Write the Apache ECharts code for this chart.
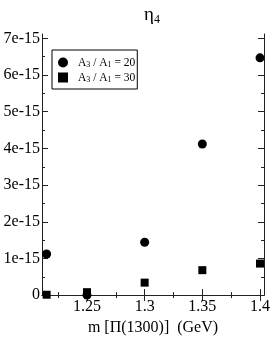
<!DOCTYPE html>
<html><head><meta charset="utf-8">
<script src="https://cdn.jsdelivr.net/npm/echarts@6/dist/echarts.min.js"></script>
<style>html,body{margin:0;padding:0;background:#fff}#c{width:273px;height:341px}</style>
</head><body><div id="c"></div>
<script>
const xValues = [1.215, 1.25, 1.3, 1.35, 1.4];
const ratio20 = [1.12e-15, 0.0, 1.44e-15, 4.12e-15, 6.47e-15];
const ratio30 = [0.01e-15, 0.08e-15, 0.34e-15, 0.68e-15, 0.86e-15];
const xMajor = [1.25, 1.3, 1.35, 1.4];
const xMinor = [1.225, 1.275, 1.325, 1.375];
const yMajor = [0, 1e-15, 2e-15, 3e-15, 4e-15, 5e-15, 6e-15, 7e-15];
const yMinor = [0.5e-15, 1.5e-15, 2.5e-15, 3.5e-15, 4.5e-15, 5.5e-15, 6.5e-15];
const xMin = 1.211, xMax = 1.4035, yMin = 0, yMax = 7.12e-15;
const FONT = 'Liberation Serif';
const AX = '#222';

function xAx(pos, vals, len, labels, line) {
  return {
    type: 'value', position: pos, min: xMin, max: xMax, splitLine: {show: false},
    axisLine: {show: line, lineStyle: {color: AX, width: 1}},
    axisTick: {show: true, inside: true, length: len, customValues: vals, lineStyle: {color: AX}},
    axisLabel: labels ? {show: true, customValues: vals, fontFamily: FONT, fontSize: 16, color: '#000', margin: 4,
      formatter: v => String(+v.toFixed(2))} : {show: false}
  };
}
function yAx(pos, vals, len, labels, line) {
  return {
    type: 'value', position: pos, min: yMin, max: yMax, splitLine: {show: false},
    axisLine: {show: line, lineStyle: {color: AX, width: 1}},
    axisTick: {show: true, inside: true, length: len, customValues: vals, lineStyle: {color: AX}},
    axisLabel: labels ? {show: true, customValues: vals, fontFamily: FONT, fontSize: 16, color: '#000', margin: 2,
      formatter: v => { const k = Math.round(v / 1e-15); return k === 0 ? '0' : k + 'e-15'; }} : {show: false}
  };
}

const xAxes = [xAx('bottom', xMajor, 6, true, true), xAx('bottom', xMinor, 3, false, false),
  xAx('top', xMajor, 6, false, true), xAx('top', xMinor, 3, false, false)];
xAxes[0].name = 'm [Π(1300)]  (GeV)';
xAxes[0].nameLocation = 'middle';
xAxes[0].nameGap = 24;
xAxes[0].nameTextStyle = {fontFamily: FONT, fontSize: 16, color: '#000'};

const yAxes = [yAx('left', yMajor, 6, true, true), yAx('left', yMinor, 3, false, false),
  yAx('right', yMajor, 6, false, true), yAx('right', yMinor, 3, false, false)];

const name20 = 'A3 / A1 = 20', name30 = 'A3 / A1 = 30';
const chart = echarts.init(document.getElementById('c'), null, {renderer: 'canvas'});
chart.setOption({
  animation: false,
  backgroundColor: '#fff',
  title: {
    text: '{a|η}{s|4}', left: 139, top: 0,
    textStyle: {fontWeight: 'normal', rich: {a: {fontFamily: FONT, fontSize: 19, fontWeight: 'normal', color: '#000'},
      s: {fontFamily: FONT, fontSize: 12, fontWeight: 'normal', color: '#000', verticalAlign: 'bottom', padding: [9, 0, 0, 0]}}}
  },
  grid: {left: 42, right: 7, top: 34, bottom: 35, containLabel: false},
  legend: {
    left: 52, top: 50, orient: 'vertical', padding: [6, 2, 5, 6], itemGap: 2,
    itemWidth: 10, itemHeight: 10, borderColor: '#000', borderWidth: 1,
    itemStyle: {opacity: 1},
    data: [{name: name20, icon: 'circle'}, {name: name30, icon: 'rect'}],
    formatter: n => (n === name20 ? '{f|A}{s|3}{t| / A}{s|1}{t| = 20}' : '{f|A}{s|3}{t| / A}{s|1}{t| = 30}'),
    textStyle: {rich: {
      f: {fontFamily: FONT, fontSize: 11.5, color: '#000', padding: [0, 0, 0, 5], lineHeight: 13},
      t: {fontFamily: FONT, fontSize: 11.5, color: '#000', lineHeight: 13},
      s: {fontFamily: FONT, fontSize: 8, color: '#000', padding: [5, 0, 0, 0], lineHeight: 13}}}
  },
  xAxis: xAxes,
  yAxis: yAxes,
  series: [
    {name: name20, type: 'scatter', symbol: 'circle', symbolSize: 9, clip: false,
      itemStyle: {color: '#000', opacity: 1}, data: xValues.map((x, i) => [x, ratio20[i]])},
    {name: name30, type: 'scatter', symbol: 'rect', symbolSize: 8, clip: false,
      itemStyle: {color: '#000', opacity: 1}, data: xValues.map((x, i) => [x, ratio30[i]])}
  ]
});
</script></body></html>
